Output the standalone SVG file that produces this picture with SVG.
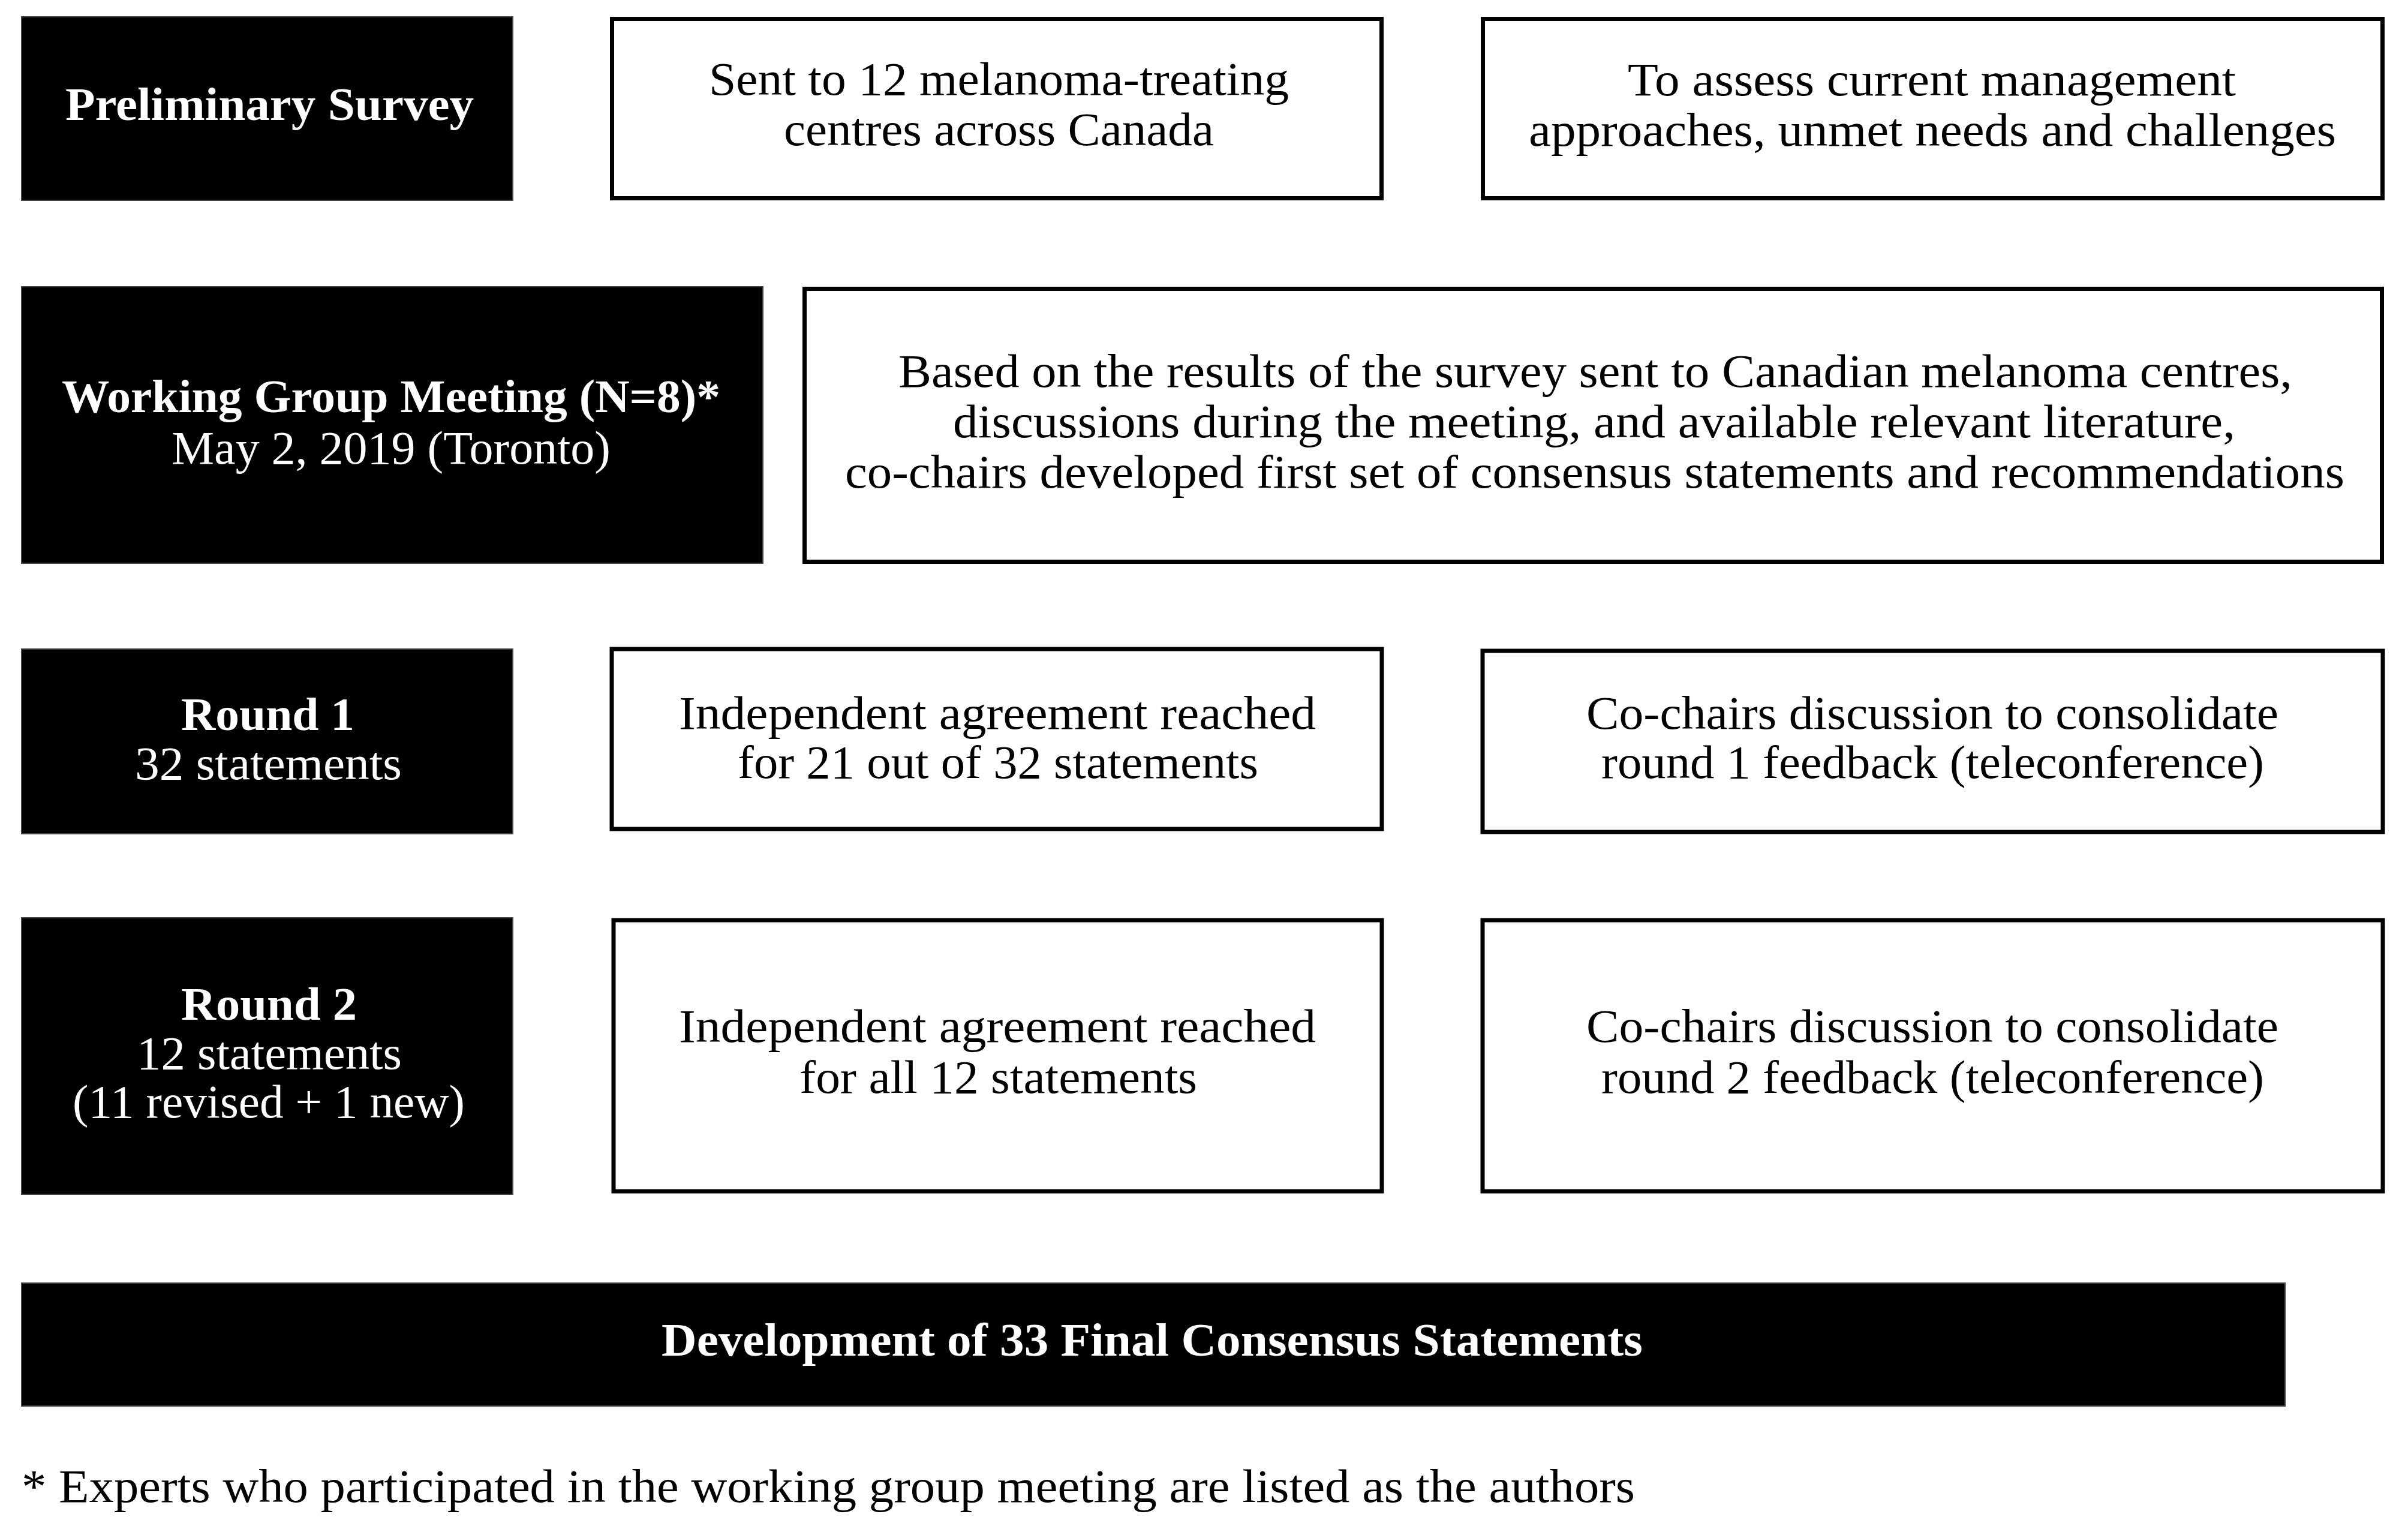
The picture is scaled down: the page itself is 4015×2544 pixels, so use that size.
<svg xmlns="http://www.w3.org/2000/svg" width="4015" height="2544" viewBox="0 0 4015 2544">
<style>
.dark{fill:#000;stroke:#444;stroke-width:2}
.light{fill:#fff;stroke:#000;stroke-width:7}
text{font-family:"Liberation Serif","Times New Roman",serif;font-size:78px}
.w{fill:#fff}
.b{fill:#000}
.bold{font-weight:bold}
</style>
<rect width="4015" height="2544" fill="#fff"/>
<g id="connectors"></g>
<g id="prelim">
<rect class="dark" x="36" y="28" width="819" height="306"/>
<text class="w bold" x="109" y="200" textLength="681" lengthAdjust="spacingAndGlyphs">Preliminary Survey</text>
</g>
<g id="sent">
<rect class="light" x="1020.5" y="31.5" width="1283" height="299"/>
<text class="b" x="1182" y="158" textLength="967" lengthAdjust="spacingAndGlyphs">Sent to 12 melanoma-treating</text>
<text class="b" x="1307" y="242" textLength="717" lengthAdjust="spacingAndGlyphs">centres across Canada</text>
</g>
<g id="assess">
<rect class="light" x="2472.5" y="31.5" width="1500" height="299"/>
<text class="b" x="2714" y="159" textLength="1014" lengthAdjust="spacingAndGlyphs">To assess current management</text>
<text class="b" x="2549" y="243" textLength="1346" lengthAdjust="spacingAndGlyphs">approaches, unmet needs and challenges</text>
</g>
<g id="working-group">
<rect class="dark" x="36" y="478" width="1236" height="461"/>
<text class="w bold" x="103" y="687" textLength="1098" lengthAdjust="spacingAndGlyphs">Working Group Meeting (N=8)*</text>
<text class="w" x="286" y="773" textLength="732" lengthAdjust="spacingAndGlyphs">May 2, 2019 (Toronto)</text>
</g>
<g id="based">
<rect class="light" x="1341.5" y="481.5" width="2630" height="455"/>
<text class="b" x="1498" y="645" textLength="2324" lengthAdjust="spacingAndGlyphs">Based on the results of the survey sent to Canadian melanoma centres,</text>
<text class="b" x="1589" y="729" textLength="2138" lengthAdjust="spacingAndGlyphs">discussions during the meeting, and available relevant literature,</text>
<text class="b" x="1409" y="813" textLength="2500" lengthAdjust="spacingAndGlyphs">co-chairs developed first set of consensus statements and recommendations</text>
</g>
<g id="round1">
<rect class="dark" x="36" y="1082" width="819" height="308"/>
<text class="w bold" x="302" y="1217" textLength="289" lengthAdjust="spacingAndGlyphs">Round 1</text>
<text class="w" x="225" y="1299" textLength="445" lengthAdjust="spacingAndGlyphs">32 statements</text>
</g>
<g id="agree1">
<rect class="light" x="1020" y="1082" width="1284" height="300"/>
<text class="b" x="1132" y="1215" textLength="1062" lengthAdjust="spacingAndGlyphs">Independent agreement reached</text>
<text class="b" x="1230" y="1297" textLength="868" lengthAdjust="spacingAndGlyphs">for 21 out of 32 statements</text>
</g>
<g id="cochairs1">
<rect class="light" x="2472" y="1085" width="1501" height="302"/>
<text class="b" x="2645" y="1215" textLength="1154" lengthAdjust="spacingAndGlyphs">Co-chairs discussion to consolidate</text>
<text class="b" x="2670" y="1297" textLength="1105" lengthAdjust="spacingAndGlyphs">round 1 feedback (teleconference)</text>
</g>
<g id="round2">
<rect class="dark" x="36" y="1530" width="819" height="461"/>
<text class="w bold" x="302" y="1700" textLength="293" lengthAdjust="spacingAndGlyphs">Round 2</text>
<text class="w" x="228" y="1782" textLength="442" lengthAdjust="spacingAndGlyphs">12 statements</text>
<text class="w" x="121" y="1863" textLength="654" lengthAdjust="spacingAndGlyphs">(11 revised + 1 new)</text>
</g>
<g id="agree2">
<rect class="light" x="1023" y="1534" width="1281" height="452"/>
<text class="b" x="1132" y="1737" textLength="1062" lengthAdjust="spacingAndGlyphs">Independent agreement reached</text>
<text class="b" x="1333" y="1822" textLength="663" lengthAdjust="spacingAndGlyphs">for all 12 statements</text>
</g>
<g id="cochairs2">
<rect class="light" x="2472" y="1534" width="1501" height="452"/>
<text class="b" x="2645" y="1737" textLength="1154" lengthAdjust="spacingAndGlyphs">Co-chairs discussion to consolidate</text>
<text class="b" x="2670" y="1822" textLength="1105" lengthAdjust="spacingAndGlyphs">round 2 feedback (teleconference)</text>
</g>
<g id="final">
<rect class="dark" x="36" y="2139" width="3774" height="205"/>
<text class="w bold" x="1103" y="2260" textLength="1636" lengthAdjust="spacingAndGlyphs">Development of 33 Final Consensus Statements</text>
</g>
<g id="footnote">
<text class="b" x="36" y="2504" textLength="2690" lengthAdjust="spacingAndGlyphs">* Experts who participated in the working group meeting are listed as the authors</text>
</g>
</svg>
